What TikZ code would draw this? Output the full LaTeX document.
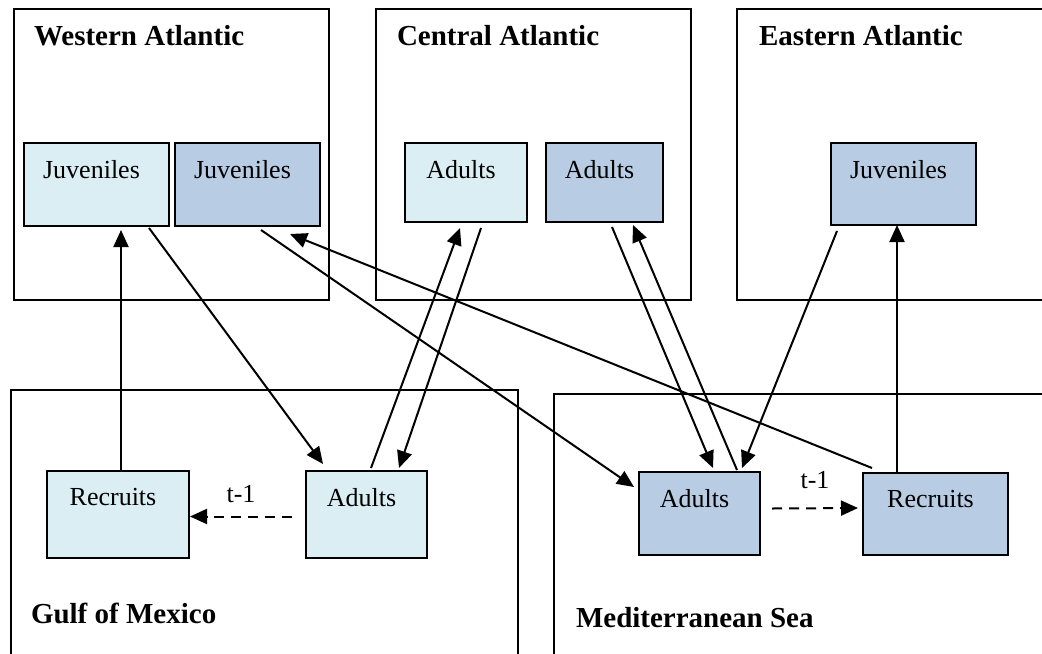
\documentclass[tikz,border=0pt]{standalone}
\usepackage{fontspec}
\setmainfont{Liberation Serif}
\usetikzlibrary{shapes,arrows,positioning,calc,arrows.meta}
\definecolor{lightfill}{HTML}{DAEEF3}
\definecolor{darkfill}{HTML}{B8CCE4}

\begin{document}
\begin{tikzpicture}[
    x=0.5pt, y=-0.5pt,
    font=\fontsize{13}{15}\selectfont,
    line width=1pt,
    region/.style={draw, anchor=north west, inner sep=0, minimum width=157.5pt, minimum height=145.5pt},
    title/.style={anchor=base west, inner sep=0, font=\fontsize{14.5}{17}\selectfont\bfseries},
    stage/.style={draw, anchor=north west, inner sep=0, minimum width=72.5pt, minimum height=41.5pt},
    stagetext/.style={anchor=north, inner sep=0, xshift=-2.5pt, yshift=-8.5pt},
    flow/.style={-{Triangle[length=8.5pt,width=7.5pt]}},
    lag/.style={flow, dash pattern=on 5pt off 3.5pt}
]
    \useasboundingbox (0,0) rectangle (1042,653);

    \node[region] (wa) at (13,8) {};
    \node[region] (ca) at (375,8) {};
    \node[region, minimum width=160pt] (ea) at (736,8) {};
    \node[region, minimum width=253.5pt, minimum height=145pt] (gm) at (10,389) {};
    \node[region, minimum width=250pt, minimum height=145pt] (ms) at (553,393) {};

    \node[title] (wat) at (33,45) {Western Atlantic};
    \node[title] (cat) at (396,45) {Central Atlantic};
    \node[title] (eat) at (758,45) {Eastern Atlantic};
    \node[title] (gmt) at (30,623) {Gulf of Mexico};
    \node[title] (mst) at (575,627) {Mediterranean Sea};

    \node[stage, fill=lightfill, label={[stagetext]north:Juveniles}] (wjl) at (23,142) {};
    \node[stage, fill=darkfill, label={[stagetext]north:Juveniles}] (wjd) at (174,142) {};
    \node[stage, fill=lightfill, minimum width=61pt, minimum height=39.5pt, label={[stagetext]north:Adults}] (cal) at (404,142) {};
    \node[stage, fill=darkfill, minimum width=58.5pt, minimum height=39.5pt, label={[stagetext]north:Adults}] (cad) at (545,142) {};
    \node[stage, fill=darkfill, minimum height=41pt, label={[stagetext]north:Juveniles}] (eaj) at (830,142) {};
    \node[stage, fill=lightfill, minimum width=71pt, minimum height=43.5pt, label={[stagetext]north:Recruits}] (grec) at (46,470) {};
    \node[stage, fill=lightfill, minimum width=60.5pt, minimum height=43.5pt, label={[stagetext]north:Adults}] (gad) at (305,470) {};
    \node[stage, fill=darkfill, minimum width=60.5pt, label={[stagetext]north:Adults}] (mad) at (638,471) {};
    \node[stage, fill=darkfill, minimum height=41pt, label={[stagetext]north:Recruits}] (mrec) at (862,472) {};

    \draw[flow] ($(grec.north west)+(75,0)$) -- ($(wjl.south west)+(98,3)$);
    \draw[flow] ($(wjl.south west)+(126,1)$) -- ($(gad.north west)+(18,-6)$);
    \draw[flow] ($(wjd.south west)+(87,3)$) -- ($(mad.north west)+(-4,16)$);
    \draw[flow] ($(mrec.north west)+(10,-4)$) -- ($(wjd.south west)+(116,7)$);
    \draw[flow] ($(gad.north west)+(66,-2)$) -- ($(cal.south west)+(56,5)$);
    \draw[flow] ($(cal.south west)+(77,5)$) -- ($(gad.north west)+(94,-2)$);
    \draw[flow] ($(cad.south west)+(67,4)$) -- ($(mad.north west)+(75,-3)$);
    \draw[flow] ($(mad.north west)+(99,-1)$) -- ($(cad.south west)+(88,2)$);
    \draw[flow] ($(eaj.south west)+(7,5)$) -- ($(mad.north west)+(104,-3)$);
    \draw[flow] ($(mrec.north west)+(35,0)$) -- ($(eaj.south west)+(67,-1)$);

    \draw[lag] ($(gad.west)+(-13,2)$) -- node[above=3pt] (glag) {t-1} ($(grec.east)+(0,2)$);
    \draw[lag] ($(mad.east)+(11,-5)$) -- node[above=6pt] (mlag) {t-1} ($(mrec.west)+(-4,-6)$);
\end{tikzpicture}
\end{document}
